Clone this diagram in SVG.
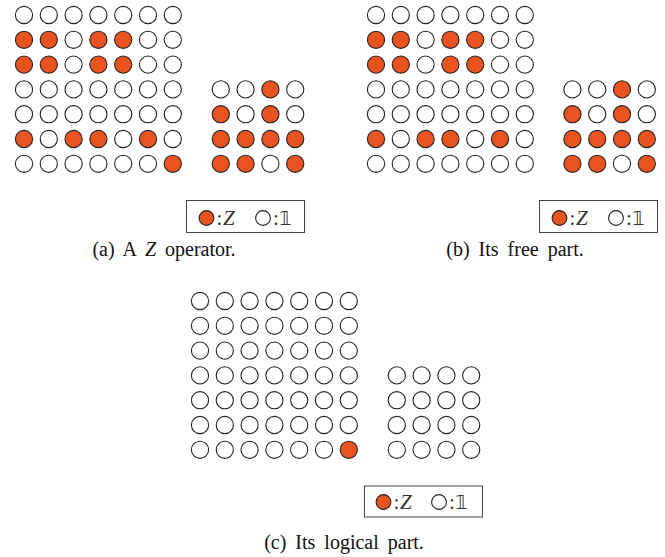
<svg xmlns="http://www.w3.org/2000/svg" xmlns:xlink="http://www.w3.org/1999/xlink" width="665" height="557" viewBox="0 0 665 557">
<style>
.w{fill:#fff;stroke:#222;stroke-width:1.1}
.r{fill:#E9531F;stroke:#222;stroke-width:1.1}
.box{fill:#fff;stroke:#444;stroke-width:1}
.cap{font-family:"Liberation Serif","Times New Roman",serif;font-size:20px;fill:#111;word-spacing:4px}
.lg{font-family:"Liberation Serif",serif;font-size:21px;fill:#333}
.bb{font-family:"DejaVu Sans","DejaVu Serif",sans-serif;font-size:19px;fill:#333}
</style>
<defs>
<circle id="cw" class="w" r="8.6"/>
<circle id="cr" class="r" r="8.6"/>
<circle id="lr" class="r" r="7.4"/>
<circle id="lw" class="w" r="7.4"/>
</defs>

<g id="panel-a">
<g id="a-big">
<use href="#cw" x="24" y="15"/><use href="#cw" x="48.8" y="15"/><use href="#cw" x="73.6" y="15"/><use href="#cw" x="98.4" y="15"/><use href="#cw" x="123.2" y="15"/><use href="#cw" x="148" y="15"/><use href="#cw" x="172.8" y="15"/>
<use href="#cr" x="24" y="39.8"/><use href="#cr" x="48.8" y="39.8"/><use href="#cw" x="73.6" y="39.8"/><use href="#cr" x="98.4" y="39.8"/><use href="#cr" x="123.2" y="39.8"/><use href="#cw" x="148" y="39.8"/><use href="#cw" x="172.8" y="39.8"/>
<use href="#cr" x="24" y="64.6"/><use href="#cr" x="48.8" y="64.6"/><use href="#cw" x="73.6" y="64.6"/><use href="#cr" x="98.4" y="64.6"/><use href="#cr" x="123.2" y="64.6"/><use href="#cw" x="148" y="64.6"/><use href="#cw" x="172.8" y="64.6"/>
<use href="#cw" x="24" y="89.4"/><use href="#cw" x="48.8" y="89.4"/><use href="#cw" x="73.6" y="89.4"/><use href="#cw" x="98.4" y="89.4"/><use href="#cw" x="123.2" y="89.4"/><use href="#cw" x="148" y="89.4"/><use href="#cw" x="172.8" y="89.4"/>
<use href="#cw" x="24" y="114.2"/><use href="#cw" x="48.8" y="114.2"/><use href="#cw" x="73.6" y="114.2"/><use href="#cw" x="98.4" y="114.2"/><use href="#cw" x="123.2" y="114.2"/><use href="#cw" x="148" y="114.2"/><use href="#cw" x="172.8" y="114.2"/>
<use href="#cr" x="24" y="139"/><use href="#cw" x="48.8" y="139"/><use href="#cr" x="73.6" y="139"/><use href="#cr" x="98.4" y="139"/><use href="#cw" x="123.2" y="139"/><use href="#cr" x="148" y="139"/><use href="#cw" x="172.8" y="139"/>
<use href="#cw" x="24" y="163.8"/><use href="#cw" x="48.8" y="163.8"/><use href="#cw" x="73.6" y="163.8"/><use href="#cw" x="98.4" y="163.8"/><use href="#cw" x="123.2" y="163.8"/><use href="#cw" x="148" y="163.8"/><use href="#cr" x="172.8" y="163.8"/>
</g>
<g id="a-small">
<use href="#cw" x="220.8" y="89.4"/><use href="#cw" x="245.6" y="89.4"/><use href="#cr" x="270.4" y="89.4"/><use href="#cw" x="295.2" y="89.4"/>
<use href="#cr" x="220.8" y="114.2"/><use href="#cw" x="245.6" y="114.2"/><use href="#cr" x="270.4" y="114.2"/><use href="#cw" x="295.2" y="114.2"/>
<use href="#cr" x="220.8" y="139"/><use href="#cr" x="245.6" y="139"/><use href="#cr" x="270.4" y="139"/><use href="#cr" x="295.2" y="139"/>
<use href="#cr" x="220.8" y="163.8"/><use href="#cr" x="245.6" y="163.8"/><use href="#cw" x="270.4" y="163.8"/><use href="#cr" x="295.2" y="163.8"/>
</g>
<g id="a-legend">
<rect class="box" x="186.5" y="200.5" width="118" height="32"/>
<use href="#lr" x="206.5" y="218"/>
<text class="lg" x="216.5" y="224.5">:</text>
<text class="lg" x="223" y="224.5" font-style="italic">Z</text>
<use href="#lw" x="263" y="218"/>
<text class="lg" x="273" y="224.5">:</text>
<text class="bb" x="279.5" y="225">𝟙</text>
</g>
<text class="cap" x="164" y="256" text-anchor="middle">(a) A <tspan font-style="italic">Z</tspan> operator.</text>
</g>

<g id="panel-b">
<g id="b-big">
<use href="#cw" x="376" y="15"/><use href="#cw" x="400.8" y="15"/><use href="#cw" x="425.6" y="15"/><use href="#cw" x="450.4" y="15"/><use href="#cw" x="475.2" y="15"/><use href="#cw" x="500" y="15"/><use href="#cw" x="524.8" y="15"/>
<use href="#cr" x="376" y="39.8"/><use href="#cr" x="400.8" y="39.8"/><use href="#cw" x="425.6" y="39.8"/><use href="#cr" x="450.4" y="39.8"/><use href="#cr" x="475.2" y="39.8"/><use href="#cw" x="500" y="39.8"/><use href="#cw" x="524.8" y="39.8"/>
<use href="#cr" x="376" y="64.6"/><use href="#cr" x="400.8" y="64.6"/><use href="#cw" x="425.6" y="64.6"/><use href="#cr" x="450.4" y="64.6"/><use href="#cr" x="475.2" y="64.6"/><use href="#cw" x="500" y="64.6"/><use href="#cw" x="524.8" y="64.6"/>
<use href="#cw" x="376" y="89.4"/><use href="#cw" x="400.8" y="89.4"/><use href="#cw" x="425.6" y="89.4"/><use href="#cw" x="450.4" y="89.4"/><use href="#cw" x="475.2" y="89.4"/><use href="#cw" x="500" y="89.4"/><use href="#cw" x="524.8" y="89.4"/>
<use href="#cw" x="376" y="114.2"/><use href="#cw" x="400.8" y="114.2"/><use href="#cw" x="425.6" y="114.2"/><use href="#cw" x="450.4" y="114.2"/><use href="#cw" x="475.2" y="114.2"/><use href="#cw" x="500" y="114.2"/><use href="#cw" x="524.8" y="114.2"/>
<use href="#cr" x="376" y="139"/><use href="#cw" x="400.8" y="139"/><use href="#cr" x="425.6" y="139"/><use href="#cr" x="450.4" y="139"/><use href="#cw" x="475.2" y="139"/><use href="#cr" x="500" y="139"/><use href="#cw" x="524.8" y="139"/>
<use href="#cw" x="376" y="163.8"/><use href="#cw" x="400.8" y="163.8"/><use href="#cw" x="425.6" y="163.8"/><use href="#cw" x="450.4" y="163.8"/><use href="#cw" x="475.2" y="163.8"/><use href="#cw" x="500" y="163.8"/><use href="#cw" x="524.8" y="163.8"/>
</g>
<g id="b-small">
<use href="#cw" x="572.4" y="89.4"/><use href="#cw" x="597.2" y="89.4"/><use href="#cr" x="622" y="89.4"/><use href="#cw" x="646.8" y="89.4"/>
<use href="#cr" x="572.4" y="114.2"/><use href="#cw" x="597.2" y="114.2"/><use href="#cr" x="622" y="114.2"/><use href="#cw" x="646.8" y="114.2"/>
<use href="#cr" x="572.4" y="139"/><use href="#cr" x="597.2" y="139"/><use href="#cr" x="622" y="139"/><use href="#cr" x="646.8" y="139"/>
<use href="#cr" x="572.4" y="163.8"/><use href="#cr" x="597.2" y="163.8"/><use href="#cw" x="622" y="163.8"/><use href="#cr" x="646.8" y="163.8"/>
</g>
<g id="b-legend">
<rect class="box" x="539.5" y="200.5" width="118" height="32"/>
<use href="#lr" x="559.5" y="218"/>
<text class="lg" x="569.5" y="224.5">:</text>
<text class="lg" x="576" y="224.5" font-style="italic">Z</text>
<use href="#lw" x="616" y="218"/>
<text class="lg" x="626" y="224.5">:</text>
<text class="bb" x="632.5" y="225">𝟙</text>
</g>
<text class="cap" x="515" y="256" text-anchor="middle">(b) Its free part.</text>
</g>

<g id="panel-c">
<g id="c-big">
<use href="#cw" x="200" y="301"/><use href="#cw" x="224.8" y="301"/><use href="#cw" x="249.6" y="301"/><use href="#cw" x="274.4" y="301"/><use href="#cw" x="299.2" y="301"/><use href="#cw" x="324" y="301"/><use href="#cw" x="348.8" y="301"/>
<use href="#cw" x="200" y="325.8"/><use href="#cw" x="224.8" y="325.8"/><use href="#cw" x="249.6" y="325.8"/><use href="#cw" x="274.4" y="325.8"/><use href="#cw" x="299.2" y="325.8"/><use href="#cw" x="324" y="325.8"/><use href="#cw" x="348.8" y="325.8"/>
<use href="#cw" x="200" y="350.6"/><use href="#cw" x="224.8" y="350.6"/><use href="#cw" x="249.6" y="350.6"/><use href="#cw" x="274.4" y="350.6"/><use href="#cw" x="299.2" y="350.6"/><use href="#cw" x="324" y="350.6"/><use href="#cw" x="348.8" y="350.6"/>
<use href="#cw" x="200" y="375.4"/><use href="#cw" x="224.8" y="375.4"/><use href="#cw" x="249.6" y="375.4"/><use href="#cw" x="274.4" y="375.4"/><use href="#cw" x="299.2" y="375.4"/><use href="#cw" x="324" y="375.4"/><use href="#cw" x="348.8" y="375.4"/>
<use href="#cw" x="200" y="400.2"/><use href="#cw" x="224.8" y="400.2"/><use href="#cw" x="249.6" y="400.2"/><use href="#cw" x="274.4" y="400.2"/><use href="#cw" x="299.2" y="400.2"/><use href="#cw" x="324" y="400.2"/><use href="#cw" x="348.8" y="400.2"/>
<use href="#cw" x="200" y="425"/><use href="#cw" x="224.8" y="425"/><use href="#cw" x="249.6" y="425"/><use href="#cw" x="274.4" y="425"/><use href="#cw" x="299.2" y="425"/><use href="#cw" x="324" y="425"/><use href="#cw" x="348.8" y="425"/>
<use href="#cw" x="200" y="449.8"/><use href="#cw" x="224.8" y="449.8"/><use href="#cw" x="249.6" y="449.8"/><use href="#cw" x="274.4" y="449.8"/><use href="#cw" x="299.2" y="449.8"/><use href="#cw" x="324" y="449.8"/><use href="#cr" x="348.8" y="449.8"/>
</g>
<g id="c-small">
<use href="#cw" x="396.8" y="375.4"/><use href="#cw" x="421.6" y="375.4"/><use href="#cw" x="446.4" y="375.4"/><use href="#cw" x="471.2" y="375.4"/>
<use href="#cw" x="396.8" y="400.2"/><use href="#cw" x="421.6" y="400.2"/><use href="#cw" x="446.4" y="400.2"/><use href="#cw" x="471.2" y="400.2"/>
<use href="#cw" x="396.8" y="425"/><use href="#cw" x="421.6" y="425"/><use href="#cw" x="446.4" y="425"/><use href="#cw" x="471.2" y="425"/>
<use href="#cw" x="396.8" y="449.8"/><use href="#cw" x="421.6" y="449.8"/><use href="#cw" x="446.4" y="449.8"/><use href="#cw" x="471.2" y="449.8"/>
</g>
<g id="c-legend">
<rect class="box" x="364.5" y="486" width="118" height="31"/>
<use href="#lr" x="383.5" y="502"/>
<text class="lg" x="393.5" y="508.5">:</text>
<text class="lg" x="400" y="508.5" font-style="italic">Z</text>
<use href="#lw" x="439" y="502"/>
<text class="lg" x="449" y="508.5">:</text>
<text class="bb" x="455.5" y="509">𝟙</text>
</g>
<text class="cap" x="344" y="549" text-anchor="middle">(c) Its logical part.</text>
</g>
</svg>
